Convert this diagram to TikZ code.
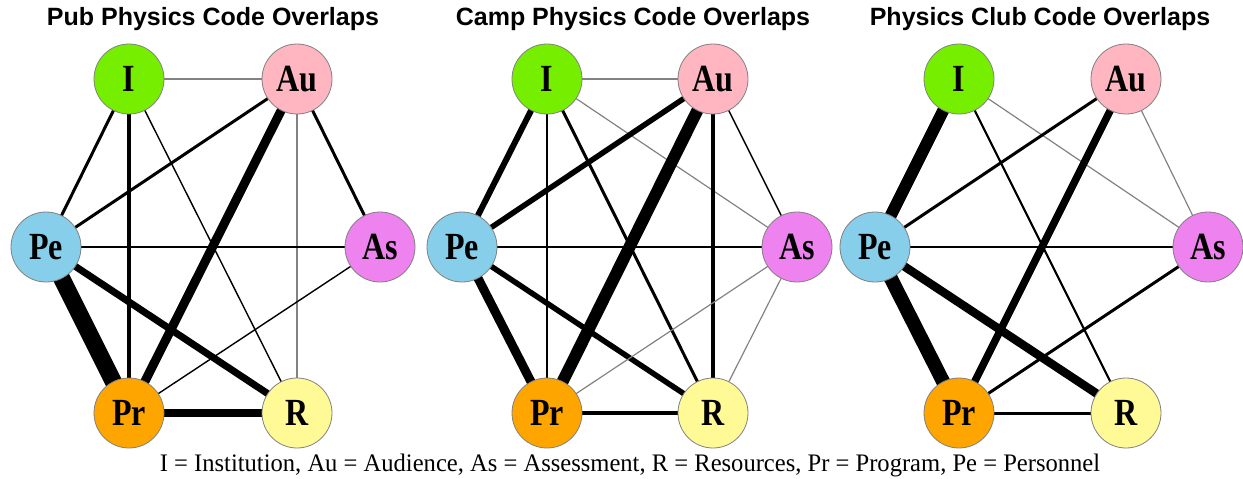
\documentclass[tikz,border=0pt]{standalone}
\usepackage{fontspec}
\usepackage{graphicx}
\setmainfont{Liberation Serif}
\newfontfamily\titlefont{Liberation Sans}
\usetikzlibrary{backgrounds}
\newcommand\tall[1]{\scalebox{1}[1.2]{#1}}
\definecolor{cI}{RGB}{118,238,0}
\definecolor{cAu}{RGB}{255,182,193}
\definecolor{cPe}{RGB}{135,206,235}
\definecolor{cAs}{RGB}{238,130,238}
\definecolor{cPr}{RGB}{255,165,0}
\definecolor{cR}{RGB}{255,250,150}
\definecolor{thing}{RGB}{130,130,130}
\begin{document}
\begin{tikzpicture}[x=1pt,y=-1pt,
  nd/.style={circle,draw=gray,line width=0.8pt,minimum size=70pt,inner sep=0pt,font=\bfseries\fontsize{32}{32}\selectfont},
  ttl/.style={font=\titlefont\bfseries\fontsize{25}{25}\selectfont},
  lw/.style={draw=black,line width=#1},
  gthin/.style={draw=thing,line width=1.2pt}]
\useasboundingbox (0,0) rectangle (1243,479);
% titles
\node[ttl] (t1) at (213,19) {Pub Physics Code Overlaps};
\node[ttl] (t2) at (633,19) {Camp Physics Code Overlaps};
\node[ttl] (t3) at (1040,19) {Physics Club Code Overlaps};
% graph 1
\node[nd,fill=cI] (I1) at (129,79) {\tall{I}};
\node[nd,fill=cAu] (Au1) at (297,79) {\tall{Au}};
\node[nd,fill=cPe] (Pe1) at (46,247) {\tall{Pe}};
\node[nd,fill=cAs] (As1) at (380,247) {\tall{As}};
\node[nd,fill=cPr] (Pr1) at (129,413) {\tall{Pr}};
\node[nd,fill=cR] (R1) at (297,413) {\tall{R}};
% graph 2
\node[nd,fill=cI] (I2) at (547,79) {\tall{I}};
\node[nd,fill=cAu] (Au2) at (713,79) {\tall{Au}};
\node[nd,fill=cPe] (Pe2) at (462,247) {\tall{Pe}};
\node[nd,fill=cAs] (As2) at (797,247) {\tall{As}};
\node[nd,fill=cPr] (Pr2) at (547,413) {\tall{Pr}};
\node[nd,fill=cR] (R2) at (713,413) {\tall{R}};
% graph 3
\node[nd,fill=cI] (I3) at (959,79) {\tall{I}};
\node[nd,fill=cAu] (Au3) at (1126,79) {\tall{Au}};
\node[nd,fill=cPe] (Pe3) at (875,247) {\tall{Pe}};
\node[nd,fill=cAs] (As3) at (1208,247) {\tall{As}};
\node[nd,fill=cPr] (Pr3) at (959,413) {\tall{Pr}};
\node[nd,fill=cR] (R3) at (1126,413) {\tall{R}};
% legend
\node[font=\fontsize{21}{21}\selectfont,xscale=1.17,yscale=1.2] (leg) at (630,465) {I = Institution, Au = Audience, As = Assessment, R = Resources, Pr = Program, Pe = Personnel};
\begin{pgfonlayer}{background}
% graph 1 edges
\draw[gthin] (I1.center) -- (Au1.center);
\draw[lw=3pt] (I1.center) -- (Pe1.center);
\draw[lw=4.5pt] (I1.center) -- (Pr1.center);
\draw[lw=1.4pt] (I1.center) -- (R1.center);
\draw[lw=3pt] (Au1.center) -- (Pe1.center);
\draw[lw=9pt] (Au1.center) -- (Pr1.center);
\draw[lw=3pt] (Au1.center) -- (As1.center);
\draw[gthin] (Au1.center) -- (R1.center);
\draw[lw=1.8pt] (Pe1.center) -- (As1.center);
\draw[lw=17pt] (Pe1.center) -- (Pr1.center);
\draw[lw=7pt] (Pe1.center) -- (R1.center);
\draw[lw=1.4pt] (As1.center) -- (Pr1.center);
\draw[lw=8pt] (Pr1.center) -- (R1.center);
% graph 2 edges
\draw[gthin] (I2.center) -- (Au2.center);
\draw[lw=6pt] (I2.center) -- (Pe2.center);
\draw[lw=1.6pt] (I2.center) -- (Pr2.center);
\draw[lw=3pt] (I2.center) -- (R2.center);
\draw[gthin] (I2.center) -- (As2.center);
\draw[lw=5.5pt] (Au2.center) -- (Pe2.center);
\draw[lw=12pt] (Au2.center) -- (Pr2.center);
\draw[lw=4.5pt] (Au2.center) -- (R2.center);
\draw[lw=1.4pt] (Au2.center) -- (As2.center);
\draw[lw=1.8pt] (Pe2.center) -- (As2.center);
\draw[lw=9pt] (Pe2.center) -- (Pr2.center);
\draw[lw=5.5pt] (Pe2.center) -- (R2.center);
\draw[gthin] (As2.center) -- (Pr2.center);
\draw[gthin] (As2.center) -- (R2.center);
\draw[lw=4.5pt] (Pr2.center) -- (R2.center);
% graph 3 edges
\draw[lw=12pt] (I3.center) -- (Pe3.center);
\draw[gthin] (I3.center) -- (As3.center);
\draw[lw=2.2pt] (I3.center) -- (R3.center);
\draw[lw=3pt] (Au3.center) -- (Pe3.center);
\draw[lw=7.5pt] (Au3.center) -- (Pr3.center);
\draw[gthin] (Au3.center) -- (As3.center);
\draw[lw=2.5pt] (Pe3.center) -- (As3.center);
\draw[lw=14pt] (Pe3.center) -- (Pr3.center);
\draw[lw=8.5pt] (Pe3.center) -- (R3.center);
\draw[lw=3pt] (As3.center) -- (Pr3.center);
\draw[lw=3pt] (Pr3.center) -- (R3.center);
\end{pgfonlayer}
\end{tikzpicture}
\end{document}
